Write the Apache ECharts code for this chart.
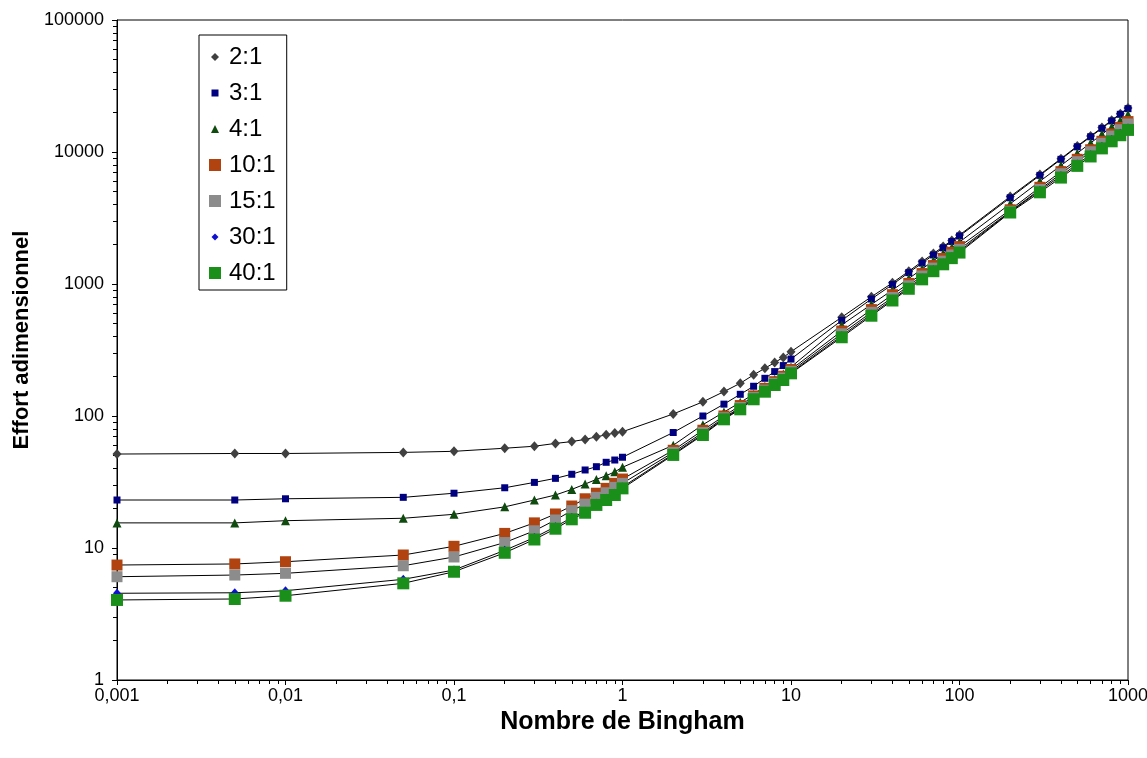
<!DOCTYPE html>
<html>
<head>
<meta charset="utf-8">
<script src="https://cdn.jsdelivr.net/npm/echarts@6/dist/echarts.min.js"></script>
<style>
html,body{margin:0;padding:0;background:#fff;}
#chart{width:1147px;height:758px;}
</style>
</head>
<body>
<div id="chart"></div>
<script>
const bingham = [0.001,0.005,0.01,0.05,0.1,0.2,0.3,0.4,0.5,0.6,0.7,0.8,0.9,1,2,3,4,5,6,7,8,9,10,20,30,40,50,60,70,80,90,100,200,300,400,500,600,700,800,900,1000];
const r2_1  = [51.5,52,52,53,54,57,59,62,64,66.5,69.5,72,74.5,76,103.6,128,153,177,205,230,254,278,307,560,800,1020,1250,1480,1700,1920,2140,2350,4600,6750,8900,11100,13200,15300,17400,19500,21500];
const r3_1  = [23.1,23.1,23.6,24.2,26,28.6,31.4,33.7,36.2,39,41.3,44.6,46.4,48.7,75,100,123,146,168,193,217,241,270,530,770,990,1220,1440,1660,1880,2100,2310,4500,6650,8800,10950,13050,15100,17200,19300,21300];
const r4_1  = [15.5,15.5,16.1,16.8,18,20.5,23.1,25.2,27.8,30.5,33.1,35.3,37.8,40.9,60,86,107,127,146,168,190,208,235,490,700,900,1100,1300,1500,1700,1890,2080,4050,6000,7900,9800,11700,13600,15500,17300,19200];
const r10_1 = [7.43,7.57,7.87,8.85,10.3,12.9,15.5,18.1,20.8,23.6,26,28.3,30.9,33.3,55,78,100,120,142,162,182,200,225,440,640,830,1010,1200,1380,1560,1740,1920,3650,5400,7100,8800,10400,12050,13700,15350,17000];
const r15_1 = [6.06,6.24,6.43,7.34,8.55,11,13.5,16.3,19.2,21.5,24.2,26.2,28.8,30.9,53,75,97,116,138,157,177,194,218,420,610,790,970,1150,1320,1490,1660,1830,3550,5200,6850,8450,10050,11650,13200,14750,16300];
const r30_1 = [4.54,4.58,4.75,5.79,6.81,9.6,12,14.5,17,19,21.8,23.8,26,29,51.5,73,95.5,114,135.5,154.5,174,190,213,405,590,765,940,1110,1280,1440,1610,1770,3520,5100,6600,8100,9550,11000,12450,13850,15200];
const r40_1 = [4.04,4.11,4.35,5.4,6.61,9.2,11.6,14,16.5,18.5,21.2,23.1,25.2,28.3,50.7,71.8,94.4,112.4,133.9,152.8,171.7,187.4,210.5,395,575,750,920,1085,1250,1410,1570,1730,3480,4950,6400,7850,9250,10650,12050,13400,14700];

const seriesNames = ['2:1','3:1','4:1','10:1','15:1','30:1','40:1'];
const xTickLabels = ['0,001','0,01','0,1','1','10','100','1000'];
const yTickLabels = ['1','10','100','1000','10000','100000'];
const xTitle = 'Nombre de Bingham';
const yTitle = 'Effort adimensionnel';

const seriesValues = [r2_1, r3_1, r4_1, r10_1, r15_1, r30_1, r40_1];
const colors = ['#404040','#000080','#0f4a0f','#b0430f','#8c8c8c','#1010d0','#1a8f1a'];
const symbols = ['diamond','rect','triangle','rect','rect','diamond','rect'];
const sizes = [[9,10],7,[9,9],11,11,[8,9],12];
const legendIcons = [
  'path://M0,0L0,0M12,12L12,12M6,2L10,6L6,10L2,6Z',
  'path://M0,0L0,0M12,12L12,12M2.5,2.5H9.5V9.5H2.5Z',
  'path://M0,0L0,0M12,12L12,12M6,2L10,10H2Z',
  'path://M0,0H12V12H0Z',
  'path://M0,0H12V12H0Z',
  'path://M0,0L0,0M12,12L12,12M6,2.5L9.5,6L6,9.5L2.5,6Z',
  'path://M0,0H12V12H0Z'
];

const minorX = [];
for (let e = -3; e < 3; e++) for (let k = 2; k <= 9; k++) minorX.push(+(k * Math.pow(10, e)).toPrecision(3));
const minorY = [];
for (let e = 0; e < 5; e++) for (let k = 2; k <= 9; k++) minorY.push(k * Math.pow(10, e));

const FONT = 'Liberation Sans, Arial, sans-serif';
const chart = echarts.init(document.getElementById('chart'), null, {renderer: 'canvas'});

const series = seriesNames.map((name, i) => ({
  name: name,
  type: 'line',
  data: bingham.map((x, j) => [x, seriesValues[i][j]]),
  symbol: symbols[i],
  symbolSize: sizes[i],
  showAllSymbol: true,
  lineStyle: {color: '#000', width: 1},
  itemStyle: {color: colors[i]},
  emphasis: {disabled: true},
  animation: false
}));

chart.setOption({
  backgroundColor: '#fff',
  animation: false,
  grid: {left: 117, right: 19, top: 20, bottom: 78, show: true, borderColor: '#000', borderWidth: 1,
         containLabel: false, outerBoundsMode: 'none'},
  legend: {
    orient: 'vertical',
    left: 199, top: 35,
    padding: [10, 11, 5, 10],
    itemGap: 12,
    itemWidth: 12, itemHeight: 12,
    borderColor: '#000', borderWidth: 1,
    backgroundColor: '#fff',
    textStyle: {fontFamily: FONT, fontSize: 24, color: '#000', lineHeight: 24, padding: [0,0,0,3]},
    data: seriesNames.map((n, i) => ({name: n, icon: legendIcons[i], itemStyle: {color: colors[i], borderWidth: 0}}))
  },
  xAxis: [{
    type: 'log', logBase: 10, min: 0.001, max: 1000,
    name: xTitle, nameLocation: 'middle', nameGap: 25,
    nameTextStyle: {fontFamily: FONT, fontSize: 25, fontWeight: 'bold', color: '#000'},
    axisLine: {show: true, lineStyle: {color: '#000', width: 1}},
    axisTick: {show: true, length: 5, lineStyle: {color: '#000'}},
    axisLabel: {fontFamily: FONT, fontSize: 18, color: '#000', margin: 7, hideOverlap: false,
      formatter: v => xTickLabels[Math.round(Math.log10(v)) + 3]},
    splitLine: {show: false}, minorTick: {show: false}
  }, {
    type: 'log', logBase: 10, min: 0.001, max: 1000, position: 'bottom',
    axisLine: {show: false},
    axisTick: {show: true, length: 4, lineStyle: {color: '#000'}, customValues: minorX},
    axisLabel: {show: false},
    splitLine: {show: false}
  }],
  yAxis: [{
    type: 'log', logBase: 10, min: 1, max: 100000,
    name: yTitle, nameLocation: 'middle', nameGap: 84,
    nameTextStyle: {fontFamily: FONT, fontSize: 22, fontWeight: 'bold', color: '#000', padding: [0,0,0,20]},
    axisLine: {show: true, lineStyle: {color: '#000', width: 1}},
    axisTick: {show: true, length: 5, lineStyle: {color: '#000'}},
    axisLabel: {fontFamily: FONT, fontSize: 18, color: '#000', margin: 13,
      formatter: v => yTickLabels[Math.round(Math.log10(v))]},
    splitLine: {show: false}
  }, {
    type: 'log', logBase: 10, min: 1, max: 100000, position: 'left',
    axisLine: {show: false},
    axisTick: {show: true, length: 4, lineStyle: {color: '#000'}, customValues: minorY},
    axisLabel: {show: false},
    splitLine: {show: false}
  }],
  series: series
});
</script>
</body>
</html>
